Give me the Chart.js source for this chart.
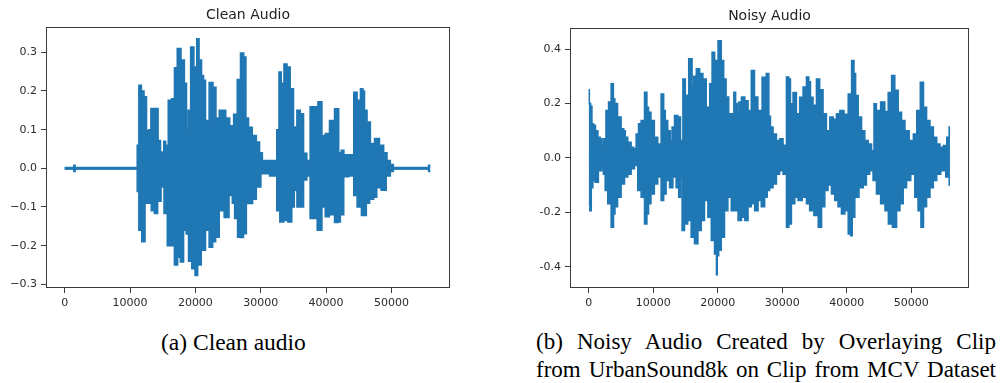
<!DOCTYPE html>
<html><head><meta charset="utf-8">
<script src="https://cdn.jsdelivr.net/npm/chart.js@4.4.1/dist/chart.umd.min.js"></script>
<style>
html,body{margin:0;padding:0;background:#fff;width:1001px;height:383px;overflow:hidden;position:relative}
canvas{position:absolute;top:0}
#c1{left:0}
#c2{left:500px}
.cap{position:absolute;font-family:'Liberation Serif','Times New Roman',serif;font-size:23px;line-height:28px;color:#000;white-space:nowrap}
.just{text-align:justify;text-align-last:justify}
</style></head><body>
<canvas id="c1" width="480" height="315"></canvas>
<canvas id="c2" width="501" height="315"></canvas>
<div class="cap" style="left:161px;top:328px;font-size:23.5px">(a) Clean audio</div>
<div class="cap just" style="left:536px;top:328px;width:460px">(b) Noisy Audio Created by Overlaying Clip</div>
<div class="cap just" style="left:536px;top:356px;width:460px">from UrbanSound8k on Clip from MCV Dataset</div>
<script>
// ---- tick labels ----
const xTickValues = [0, 10000, 20000, 30000, 40000, 50000];
const cleanYTickValues = [-0.3, -0.2, -0.1, 0, 0.1, 0.2, 0.3];
const noisyYTickValues = [-0.4, -0.2, 0, 0.2, 0.4];

// ---- Clean audio: upper envelope (sample index, amplitude) ----
const cleanUpperX = [0,1300,1500,1700,11000,11200,11500,12000,12300,12760,13000,13400,14050,14550,14800,15030,15300,15600,16100,16600,17000,17450,18150,18500,18800,19000,19550,20000,20430,20700,21200,21300,21800,22400,23000,23300,24000,24300,25000,25500,26200,26600,27200,27600,27870,28400,29000,29650,30000,30500,32300,32600,32980,33300,33800,34250,34760,35270,35780,36300,36800,37300,37800,38400,39100,39620,40130,40900,41670,42180,42440,43000,43970,44480,45000,45500,45750,46000,46520,47020,47780,48550,49060,49570,50080,50500,55600,55750,55900];
const cleanUpperY = [0.002,0.002,0.008,0.002,0.002,0.06,0.215,0.2,0.185,0.098,0.1,0.155,0.155,0.072,0.039,0.042,0.07,0.06,0.176,0.18,0.26,0.31,0.28,0.22,0.1,0.15,0.314,0.262,0.335,0.28,0.24,0.228,0.124,0.222,0.21,0.13,0.15,0.15,0.13,0.11,0.14,0.23,0.298,0.288,0.13,0.106,0.085,0.068,0.04,0.02,0.02,0.1,0.249,0.22,0.27,0.262,0.206,0.107,0.15,0.141,0.039,0.02,0.159,0.159,0.172,0.085,0.09,0.124,0.154,0.04,0.047,0.035,0.035,0.197,0.176,0.206,0.2,0.15,0.12,0.064,0.077,0.06,0.04,0.02,0.01,0.002,0.002,0.008,0.002];
// ---- Clean audio: lower envelope ----
const cleanLowerX = [0,1300,1500,1700,11000,11200,11500,12100,12500,13000,13500,13960,14500,15000,15400,16000,16500,17080,17500,17900,18500,18700,19200,19700,20200,20500,21300,21800,22400,22900,23300,24000,24800,25500,25800,26200,26700,27100,27600,28000,28500,29000,29650,30400,32300,32600,33230,33800,34500,35000,35270,35800,36300,36800,37300,37800,38400,38860,39100,39620,40100,40900,41670,41920,42440,42950,43970,44480,45000,45800,46010,46300,47020,47500,48000,48820,49570,50080,50500,55600,55750,55900];
const cleanLowerY = [-0.002,-0.002,-0.008,-0.002,-0.002,-0.06,-0.16,-0.19,-0.09,-0.09,-0.11,-0.117,-0.085,-0.048,-0.117,-0.2,-0.2,-0.25,-0.23,-0.242,-0.16,-0.17,-0.24,-0.26,-0.277,-0.25,-0.212,-0.16,-0.204,-0.19,-0.178,-0.11,-0.127,-0.07,-0.09,-0.13,-0.178,-0.179,-0.169,-0.091,-0.091,-0.08,-0.048,-0.014,-0.02,-0.11,-0.139,-0.135,-0.139,-0.1,-0.057,-0.1,-0.1,-0.03,-0.02,-0.13,-0.13,-0.16,-0.16,-0.1,-0.125,-0.12,-0.14,-0.139,-0.12,-0.022,-0.02,-0.07,-0.1,-0.122,-0.122,-0.09,-0.08,-0.075,-0.05,-0.057,-0.02,-0.008,-0.002,-0.002,-0.008,-0.002];

// ---- Noisy audio: upper envelope ----
const noisyUpperX = [0,200,400,600,900,1200,1650,1900,2150,2400,2950,3200,3750,3900,4200,4750,5300,5550,5800,6300,6850,7100,7600,7850,8400,8900,9150,9400,9900,10450,10950,11500,11750,12000,12500,12800,13050,13550,14100,14350,14850,15100,15900,16150,16400,16950,17450,17950,18500,19000,19250,19800,20300,20800,21050,21550,21850,22350,22650,22900,23150,23400,23950,24450,24950,25450,25950,26500,27250,27800,28050,28300,28850,29350,29850,30400,30900,31150,31400,31950,32450,32950,33500,34000,34250,34500,35050,35550,36050,36600,37100,37650,38150,38650,39200,39950,40500,41000,41250,41500,42050,42550,43050,43600,44100,44350,44850,45650,46150,46700,47200,47700,48250,48750,49300,50050,50600,51100,51700,52100,52650,53150,53700,54200,54700,55250,55750,56000];
const noisyUpperY = [0.25,0.2,0.19,0.125,0.12,0.1,0.076,0.07,0.04,0.07,0.174,0.205,0.272,0.217,0.2,0.15,0.107,0.1,0.076,0.057,0.039,0.033,0.088,0.125,0.137,0.241,0.186,0.168,0.137,0.076,0.051,0.235,0.174,0.137,0.1,0.064,0.113,0.156,0.15,0.064,0.29,0.23,0.364,0.26,0.3,0.327,0.31,0.29,0.186,0.272,0.388,0.358,0.43,0.358,0.29,0.224,0.162,0.162,0.241,0.2,0.174,0.205,0.224,0.21,0.174,0.321,0.224,0.174,0.296,0.31,0.153,0.113,0.088,0.064,0.07,0.046,0.297,0.29,0.199,0.24,0.162,0.223,0.26,0.297,0.28,0.223,0.193,0.29,0.25,0.162,0.1,0.15,0.142,0.162,0.174,0.16,0.235,0.358,0.31,0.229,0.15,0.1,0.064,0.051,0.026,0.199,0.174,0.205,0.17,0.24,0.303,0.248,0.168,0.137,0.1,0.064,0.088,0.174,0.278,0.186,0.137,0.113,0.076,0.051,0.039,0.045,0.076,0.113];
// ---- Noisy audio: lower envelope ----
const noisyLowerX = [0,350,450,850,1100,1900,2150,2400,2700,3200,3750,3950,4200,4750,5300,5800,6300,6850,7350,7850,8400,8900,9150,9400,9900,10450,10950,11500,11750,12250,12800,13300,13800,14100,14350,14600,15100,15600,16150,16650,17200,17700,18200,18750,19250,19750,19850,20000,20300,20800,21300,21850,22350,22900,23400,23950,24450,24950,25450,26000,26500,27000,27550,27800,28300,28850,29350,29850,30400,30900,31150,31700,32200,32700,33500,34000,34500,35300,35850,36350,36850,37350,37900,38400,38900,39450,39950,40500,40700,41000,41500,42300,42800,43300,43800,44350,44850,45650,46200,46700,47450,48000,48500,49000,49550,50300,50800,51300,51700,52100,52650,53150,53700,54200,54950,55750,56000];
const noisyLowerY = [-0.169,-0.194,-0.11,-0.083,-0.09,-0.047,-0.034,-0.06,-0.12,-0.169,-0.255,-0.206,-0.18,-0.145,-0.096,-0.07,-0.06,-0.04,-0.028,-0.12,-0.145,-0.243,-0.206,-0.169,-0.133,-0.096,-0.07,-0.157,-0.133,-0.083,-0.11,-0.07,-0.11,-0.145,-0.07,-0.267,-0.243,-0.23,-0.292,-0.316,-0.267,-0.23,-0.157,-0.218,-0.304,-0.353,-0.43,-0.36,-0.34,-0.292,-0.194,-0.145,-0.194,-0.194,-0.23,-0.218,-0.23,-0.18,-0.169,-0.194,-0.157,-0.18,-0.145,-0.12,-0.11,-0.096,-0.06,-0.047,-0.06,-0.255,-0.243,-0.169,-0.145,-0.157,-0.145,-0.169,-0.194,-0.212,-0.255,-0.18,-0.12,-0.1,-0.133,-0.157,-0.18,-0.206,-0.194,-0.28,-0.286,-0.218,-0.145,-0.11,-0.1,-0.06,-0.047,-0.083,-0.133,-0.169,-0.194,-0.243,-0.255,-0.194,-0.169,-0.11,-0.083,-0.06,-0.145,-0.194,-0.255,-0.18,-0.145,-0.11,-0.083,-0.06,-0.047,-0.07,-0.1];

const BLUE = '#1f77b4';
const AXIS = '#3a3a3a';
const LABEL = '#2b2b2b';

function pts(xs, ys) {
  const n = Math.min(xs.length, ys.length);
  const out = [];
  for (let i = 0; i < n; i++) out.push({x: xs[i], y: ys[i]});
  return out;
}

const framePlugin = {
  id: 'frame',
  afterDraw(chart) {
    const {ctx, chartArea: a} = chart;
    ctx.save();
    ctx.strokeStyle = AXIS;
    ctx.lineWidth = 1;
    ctx.strokeRect(Math.round(a.left) + 0.5, Math.round(a.top) + 0.5,
      Math.round(a.right - a.left) - 1, Math.round(a.bottom - a.top) - 1);
    ctx.restore();
  }
};

function makeChart(id, o) {
  return new Chart(document.getElementById(id), {
    type: 'line',
    data: {datasets: [
      {data: o.upper, borderColor: BLUE, backgroundColor: BLUE, borderWidth: 1.5,
       pointRadius: 0, tension: 0, stepped: 'middle', fill: {value: -0.003}},
      {data: o.lower, borderColor: BLUE, backgroundColor: BLUE, borderWidth: 1.5,
       pointRadius: 0, tension: 0, stepped: 'middle', fill: {value: 0.003}}
    ]},
    options: {
      responsive: false, animation: false, devicePixelRatio: 1,
      layout: {padding: {left: 0, right: o.padRight, top: 0, bottom: 0}},
      plugins: {
        legend: {display: false}, tooltip: {enabled: false},
        title: {display: true, text: o.title, fullSize: false, color: '#222',
          font: {family: 'DejaVu Sans', size: 14, weight: 'normal', lineHeight: 1.2},
          padding: {top: o.titleTop, bottom: o.titleBottom}}
      },
      scales: {
        x: {
          type: 'linear', min: o.xmin, max: o.xmax,
          afterFit(s) { s.height = 27; },
          afterBuildTicks(s) { s.ticks = xTickValues.map(v => ({value: v})); },
          grid: {display: true, drawOnChartArea: false, drawTicks: true, tickLength: 5, color: AXIS, lineWidth: 1},
          border: {display: false},
          ticks: {autoSkip: false, maxRotation: 0, padding: 4, color: LABEL,
            font: {family: 'DejaVu Sans', size: 11}, callback: v => String(v)}
        },
        y: {
          type: 'linear', min: o.ymin, max: o.ymax,
          afterFit(s) { s.width = o.yWidth; },
          afterBuildTicks(s) { s.ticks = o.yTicks.map(v => ({value: v})); },
          grid: {display: true, drawOnChartArea: false, drawTicks: true, tickLength: 5, color: AXIS, lineWidth: 1},
          border: {display: false},
          ticks: {autoSkip: false, padding: 4, color: LABEL,
            font: {family: 'DejaVu Sans', size: 11}, callback: o.fmt}
        }
      }
    },
    plugins: [framePlugin]
  });
}

makeChart('c1', {
  title: 'Clean Audio', titleTop: 7.2, titleBottom: 3,
  upper: pts(cleanUpperX, cleanUpperY), lower: pts(cleanLowerX, cleanLowerY),
  xmin: -2850, xmax: 58950, ymin: -0.3095, ymax: 0.3655,
  yTicks: cleanYTickValues, yWidth: 46, padRight: 30,
  fmt: v => (v < 0 ? '\u2212' : '') + Math.abs(v).toFixed(1)
});
makeChart('c2', {
  title: 'Noisy Audio', titleTop: 8.2, titleBottom: 3,
  upper: pts(noisyUpperX, noisyUpperY), lower: pts(noisyLowerX, noisyLowerY),
  xmin: -2900, xmax: 58950, ymin: -0.4783, ymax: 0.4772,
  yTicks: noisyYTickValues, yWidth: 70, padRight: 32,
  fmt: v => (v < 0 ? '-' : '') + Math.abs(v).toFixed(1)
});
</script>
</body></html>
